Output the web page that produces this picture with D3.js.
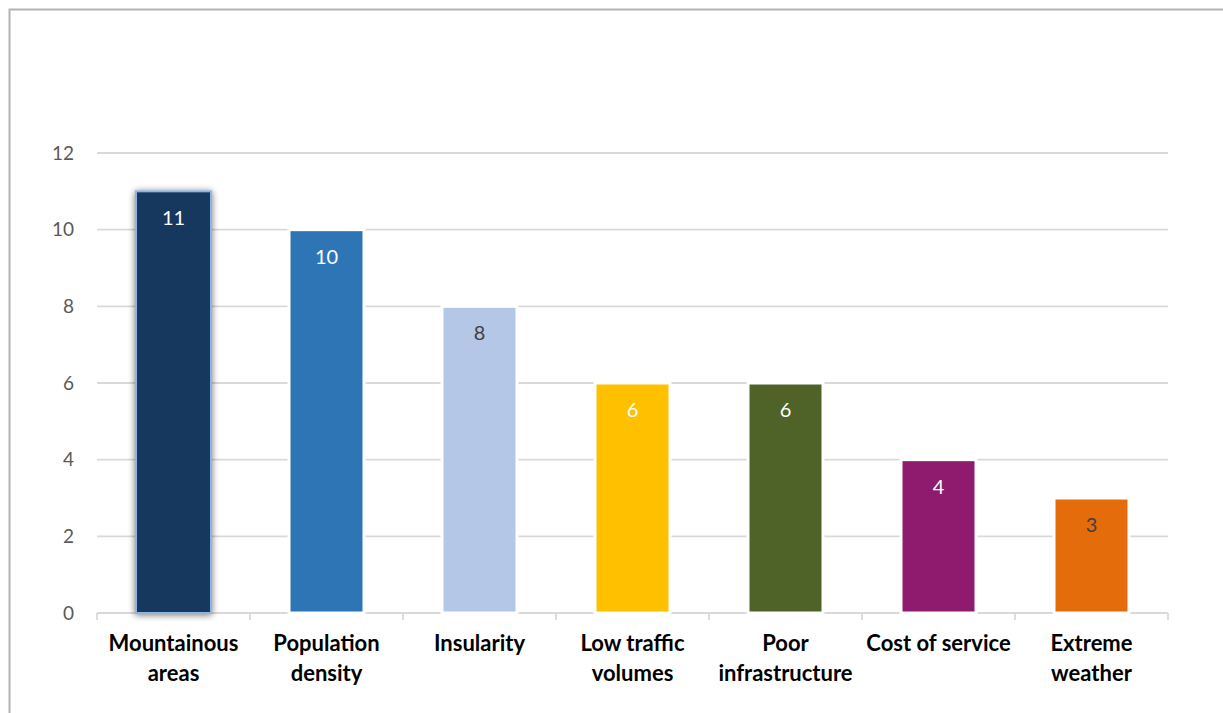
<!DOCTYPE html>
<html>
<head>
<meta charset="utf-8">
<script src="https://cdn.jsdelivr.net/npm/d3@7"></script>
<style>
  html, body { margin: 0; padding: 0; background: #fff; }
  svg { display: block; }
</style>
</head>
<body>
<svg id="chart" width="1223" height="713"></svg>
<script>
// Barriers to service provision: number of mentions per factor
const categories = [
  ["Mountainous", "areas"],
  ["Population", "density"],
  ["Insularity"],
  ["Low traffic", "volumes"],
  ["Poor", "infrastructure"],
  ["Cost of service"],
  ["Extreme", "weather"]
];
const values = [11, 10, 8, 6, 6, 4, 3];
const barColors = ["#17375e", "#2e75b6", "#b4c7e7", "#ffc000", "#4f6228", "#8e1b6e", "#e46c0a"];
const labelColors = ["#ffffff", "#ffffff", "#404040", "#ffffff", "#ffffff", "#ffffff", "#404040"];
const yTicks = [0, 2, 4, 6, 8, 10, 12];

const W = 1223, H = 713;
const plot = { left: 97, right: 1168, top: 153, bottom: 613 };
const font = "Lato, 'Open Sans', sans-serif";

const svg = d3.select("#chart");

// drop shadow for the highlighted first bar
const defs = svg.append("defs");
const glow = defs.append("filter").attr("id", "glow")
  .attr("x", "-30%").attr("y", "-10%").attr("width", "160%").attr("height", "120%");
glow.append("feGaussianBlur").attr("in", "SourceAlpha").attr("stdDeviation", 3.5).attr("result", "b");
glow.append("feOffset").attr("in", "b").attr("dx", 0).attr("dy", 1).attr("result", "o");
glow.append("feComponentTransfer").attr("in", "o").attr("result", "s")
  .append("feFuncA").attr("type", "linear").attr("slope", 0.55);
const merge = glow.append("feMerge");
merge.append("feMergeNode").attr("in", "s");
merge.append("feMergeNode").attr("in", "SourceGraphic");

// chart frame
svg.append("rect")
  .attr("x", 9.5).attr("y", 9.5).attr("width", W).attr("height", H)
  .attr("fill", "none").attr("stroke", "#b3b3b3").attr("stroke-width", 2);

const keys = categories.map(c => c.join(" "));
const x = d3.scaleBand().domain(keys).range([plot.left, plot.right])
  .paddingInner(0.51).paddingOuter(0.255);
const y = d3.scaleLinear().domain([0, 12]).range([plot.bottom, plot.top]);

// horizontal gridlines
svg.append("g").selectAll("line").data(yTicks.filter(t => t > 0)).join("line")
  .attr("x1", plot.left).attr("x2", plot.right)
  .attr("y1", d => y(d)).attr("y2", d => y(d))
  .attr("stroke", "#d9d9d9").attr("stroke-width", 1.8);

// y axis labels
const yAxis = d3.axisLeft(y).tickValues(yTicks).tickSize(0).tickPadding(0);
const yg = svg.append("g").attr("transform", `translate(${plot.left - 23},0)`).call(yAxis);
yg.select(".domain").remove();
yg.selectAll("text")
  .attr("font-family", font).attr("font-size", 19).attr("fill", "#595959");

// x axis line and tick marks
const step = x.step();
const tickXs = d3.range(keys.length + 1).map(i => plot.left + i * step);
svg.append("line")
  .attr("x1", plot.left).attr("x2", plot.right)
  .attr("y1", plot.bottom).attr("y2", plot.bottom)
  .attr("stroke", "#d9d9d9").attr("stroke-width", 1.8);
svg.append("g").selectAll("line").data(tickXs).join("line")
  .attr("x1", d => d).attr("x2", d => d)
  .attr("y1", plot.bottom).attr("y2", plot.bottom + 7)
  .attr("stroke", "#d9d9d9").attr("stroke-width", 1.8);

// bars
const data = keys.map((k, i) => ({ key: k, lines: categories[i], value: values[i], color: barColors[i], lc: labelColors[i], i }));
svg.append("g").selectAll("rect").data(data).join("rect")
  .attr("x", d => x(d.key))
  .attr("y", d => y(d.value))
  .attr("width", x.bandwidth())
  .attr("height", d => y(0) - y(d.value))
  .attr("fill", d => d.color)
  .attr("stroke", d => d.i === 0 ? "#8eb4e3" : "#ffffff")
  .attr("stroke-width", d => d.i === 0 ? 2 : 3)
  .attr("filter", d => d.i === 0 ? "url(#glow)" : null);

// value labels inside the bars
svg.append("g").selectAll("text").data(data).join("text")
  .attr("x", d => x(d.key) + x.bandwidth() / 2)
  .attr("y", d => y(d.value) + 34)
  .attr("text-anchor", "middle")
  .attr("font-family", font).attr("font-size", 20)
  .attr("fill", d => d.lc)
  .text(d => d.value);

// category labels
const xl = svg.append("g").selectAll("text").data(data).join("text")
  .attr("x", d => x(d.key) + x.bandwidth() / 2)
  .attr("y", plot.bottom + 38)
  .attr("text-anchor", "middle")
  .attr("font-family", font).attr("font-size", 22).attr("font-weight", "bold")
  .attr("fill", "#000");
xl.selectAll("tspan").data(d => d.lines.map(l => ({ l, cx: x(d.key) + x.bandwidth() / 2 }))).join("tspan")
  .attr("x", d => d.cx)
  .attr("dy", (d, i) => i === 0 ? 0 : 30)
  .text(d => d.l);
</script>
</body>
</html>
